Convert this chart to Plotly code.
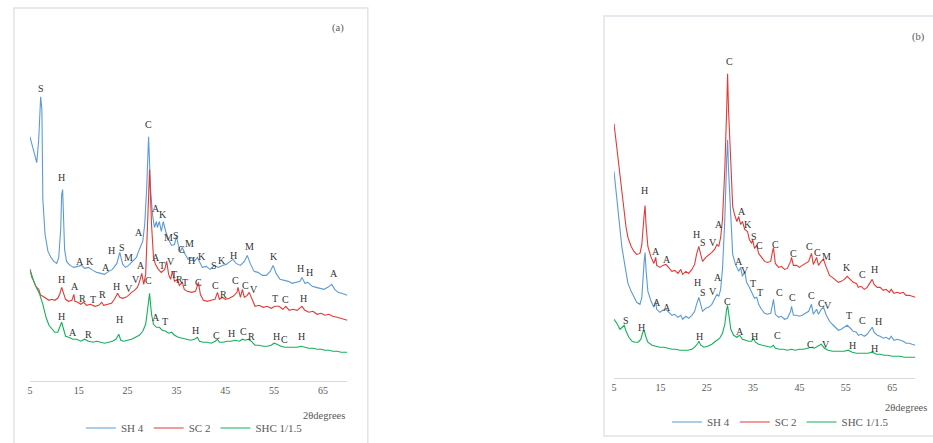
import plotly.graph_objects as go

# ---------------- Panel (a) data : 2theta (deg) / intensity (a.u.) ----------------
a_sh4_2theta = [5.0, 5.4, 5.8, 6.4, 6.8, 7.2, 7.45, 7.65, 8.1, 8.7,
                9.3, 9.9, 10.5, 10.9, 11.3, 11.5, 11.7, 11.9, 12.1, 12.5,
                13.2, 14.0, 14.8, 15.6, 16.2, 17.0, 17.9, 18.7, 19.5, 20.3,
                21.1, 21.9, 22.8, 23.4, 24.0, 24.6, 25.2, 26.0, 26.8, 27.4,
                28.1, 28.5, 28.9, 29.3, 29.7, 30.1, 30.5, 30.9, 31.1, 31.5,
                31.9, 32.3, 32.8, 33.4, 34.0, 34.6, 35.0, 35.4, 35.8, 36.2,
                36.8, 37.4, 38.1, 38.7, 39.3, 39.7, 40.3, 41.1, 41.9, 42.8,
                43.6, 44.4, 45.2, 46.0, 46.6, 47.2, 48.1, 48.9, 49.5, 50.1,
                50.9, 51.7, 52.6, 53.4, 54.2, 54.8, 55.4, 56.2, 57.0, 57.9,
                58.7, 59.5, 60.3, 60.7, 61.3, 61.9, 62.8, 63.6, 64.4, 65.2,
                66.0, 66.8, 67.4, 68.1, 68.8, 69.4, 70.0]
a_sh4_int = [245, 237, 229, 219, 242, 285, 272, 182, 147, 130,
             124, 120, 118, 124, 152, 187, 192, 167, 132, 120,
             116, 114, 115, 116, 113, 114, 111, 109, 108, 107,
             110, 112, 118, 129, 117, 114, 116, 120, 124, 132,
             140, 157, 192, 245, 192, 167, 154, 160, 154, 160,
             150, 160, 150, 142, 136, 137, 145, 136, 130, 134,
             127, 122, 124, 120, 124, 120, 114, 115, 112, 116,
             114, 116, 117, 120, 122, 118, 116, 120, 126, 118,
             110, 109, 106, 106, 110, 116, 108, 102, 101, 100,
             98, 99, 100, 104, 98, 99, 95, 94, 93, 92,
             94, 97, 92, 89, 88, 87, 86]

a_sc2_2theta = [5.0, 5.4, 5.8, 6.2, 6.8, 7.2, 7.65, 8.3, 8.9, 9.5,
                10.1, 10.7, 11.1, 11.5, 11.9, 12.3, 12.9, 13.6, 14.0, 14.2,
                14.8, 15.4, 16.0, 16.6, 17.4, 18.3, 19.1, 19.7, 20.1, 20.9,
                21.7, 22.3, 22.96, 23.4, 24.0, 24.6, 25.2, 25.8, 26.4, 27.0,
                27.4, 27.9, 28.3, 28.7, 29.1, 29.5, 29.9, 30.3, 30.7, 31.3,
                31.9, 32.6, 33.0, 33.4, 33.8, 34.2, 34.6, 35.2, 35.6, 36.2,
                36.6, 37.2, 38.1, 38.9, 39.5, 39.9, 40.5, 41.3, 42.1, 42.9,
                43.4, 43.8, 44.4, 45.0, 45.8, 46.6, 47.4, 47.6, 48.1, 48.5,
                48.9, 49.5, 49.9, 50.5, 51.1, 51.9, 52.8, 53.6, 54.4, 55.2,
                56.0, 56.8, 57.4, 58.1, 58.9, 59.7, 60.7, 61.3, 62.1, 62.96,
                63.8, 64.6, 65.4, 66.2, 67.0, 67.9, 68.7, 69.5, 70.0]
a_sc2_int = [112, 104, 100, 95, 92, 86, 85, 83, 81, 82,
             81, 83, 87, 94, 87, 82, 80, 81, 87, 80,
             79, 77, 79, 76, 77, 75, 76, 79, 76, 77,
             78, 82, 88, 84, 83, 84, 86, 89, 91, 94,
             99, 108, 97, 107, 152, 212, 157, 124, 117, 112,
             109, 112, 120, 107, 102, 110, 100, 102, 96, 99,
             92, 90, 89, 90, 99, 87, 81, 80, 81, 82,
             89, 82, 84, 82, 83, 85, 89, 94, 84, 92,
             84, 86, 89, 82, 75, 76, 74, 75, 73, 75,
             75, 72, 75, 71, 72, 71, 75, 71, 69, 70,
             67, 68, 66, 67, 65, 64, 63, 62, 61]

a_shc_2theta = [5.0, 5.4, 5.8, 6.4, 7.0, 7.65, 8.3, 8.9, 9.5, 10.1,
                10.7, 11.1, 11.5, 11.9, 12.3, 12.96, 13.8, 14.6, 15.4, 16.2,
                17.0, 17.9, 18.7, 19.5, 20.3, 21.1, 21.9, 22.6, 23.2, 23.6,
                24.2, 25.0, 25.8, 26.6, 27.4, 28.1, 28.7, 29.1, 29.5, 29.9,
                30.3, 30.9, 31.5, 32.1, 32.8, 33.4, 34.0, 34.6, 35.4, 36.2,
                37.0, 37.9, 38.7, 39.3, 39.7, 40.5, 41.3, 42.1, 42.96, 43.4,
                43.8, 44.6, 45.4, 46.2, 47.0, 47.9, 48.5, 49.1, 49.7, 50.3,
                51.1, 51.9, 52.8, 53.6, 54.4, 55.0, 55.6, 56.4, 57.2, 58.1,
                58.9, 59.7, 60.5, 61.3, 62.1, 62.96, 63.8, 64.6, 65.4, 66.2,
                67.0, 67.9, 68.7, 70.0]
a_shc_int = [112, 105, 100, 93, 87, 77, 64, 56, 52, 49,
             49, 54, 59, 52, 45, 44, 42, 42, 40, 42,
             40, 39, 40, 39, 38, 39, 40, 42, 47, 41,
             40, 41, 42, 44, 46, 50, 57, 72, 88, 67,
             57, 54, 54, 51, 50, 48, 49, 46, 44, 43,
             42, 41, 42, 44, 40, 39, 39, 38, 40, 42,
             39, 39, 40, 40, 41, 40, 42, 41, 42, 40,
             36, 36, 35, 35, 36, 38, 37, 35, 34, 34,
             34, 34, 35, 34, 33, 33, 32, 32, 31, 31,
             30, 30, 29, 29]

# ---------------- Panel (b) data ----------------
b_sc2_2theta = [5.0, 5.4, 5.9, 6.3, 6.7, 7.2, 7.6, 8.0, 8.7, 9.3,
                9.9, 10.6, 11.0, 11.5, 11.7, 11.9, 12.3, 13.0, 13.6, 14.0,
                14.2, 14.9, 15.5, 16.2, 16.8, 17.5, 18.1, 18.8, 19.4, 19.8,
                20.5, 21.1, 21.8, 22.4, 22.8, 23.3, 23.7, 24.1, 24.8, 25.4,
                26.1, 26.7, 27.2, 27.6, 28.0, 28.4, 28.9, 29.3, 29.5, 29.7,
                30.2, 30.6, 31.0, 31.5, 31.9, 32.3, 32.7, 33.2, 33.8, 34.2,
                34.7, 34.9, 35.3, 35.8, 36.2, 36.8, 37.5, 38.1, 38.8, 39.2,
                39.4, 39.8, 40.5, 41.1, 41.8, 42.4, 43.1, 43.3, 43.7, 44.4,
                45.0, 45.6, 46.3, 47.0, 47.6, 48.0, 48.7, 49.1, 49.7, 50.2,
                50.8, 51.5, 52.1, 52.7, 53.4, 54.0, 54.7, 55.3, 56.0, 56.6,
                57.3, 57.7, 58.3, 59.0, 59.6, 60.3, 60.7, 61.1, 61.8, 62.4,
                63.1, 63.7, 64.4, 64.8, 65.4, 66.1, 66.7, 67.4, 68.0, 68.7,
                69.3, 70.0]
b_sc2_int = [255, 239, 219, 199, 181, 164, 151, 141, 132, 127,
             124, 125, 134, 164, 173, 154, 132, 121, 115, 121,
             113, 111, 113, 114, 111, 107, 108, 105, 109, 104,
             107, 105, 109, 114, 124, 132, 124, 117, 121, 123,
             126, 129, 134, 132, 141, 159, 209, 269, 305, 269,
             209, 172, 164, 157, 162, 154, 157, 149, 147, 139,
             135, 139, 130, 133, 125, 121, 117, 116, 117, 127,
             131, 115, 111, 112, 109, 110, 117, 121, 113, 113,
             111, 113, 115, 117, 125, 114, 121, 113, 117, 119,
             111, 103, 101, 99, 96, 97, 99, 102, 99, 96,
             95, 91, 92, 89, 91, 96, 99, 94, 91, 91,
             88, 89, 86, 89, 85, 86, 85, 86, 83, 83,
             82, 81]

b_sh4_2theta = [5.0, 5.4, 5.9, 6.3, 6.7, 7.2, 7.6, 8.0, 8.7, 9.3,
                9.9, 10.6, 11.0, 11.5, 11.7, 11.9, 12.3, 13.0, 13.6, 14.0,
                14.2, 14.9, 15.5, 16.2, 16.8, 17.5, 18.1, 18.8, 19.4, 19.8,
                20.5, 21.1, 21.8, 22.4, 22.8, 23.3, 23.7, 24.1, 24.8, 25.4,
                26.1, 26.7, 27.2, 27.6, 28.0, 28.4, 28.9, 29.3, 29.5, 29.7,
                30.2, 30.6, 31.2, 31.9, 32.3, 32.7, 33.2, 33.6, 34.2, 34.7,
                34.9, 35.3, 35.8, 36.2, 36.8, 37.5, 38.1, 38.8, 39.2, 39.4,
                39.8, 40.5, 41.1, 41.8, 42.4, 43.1, 43.3, 43.7, 44.4, 45.0,
                45.6, 46.3, 47.0, 47.6, 48.0, 48.7, 49.1, 49.7, 50.2, 50.8,
                51.5, 52.1, 52.7, 53.4, 54.0, 54.7, 55.3, 56.0, 56.6, 57.3,
                57.7, 58.3, 59.0, 59.6, 60.3, 60.7, 61.1, 61.8, 62.4, 63.1,
                63.7, 64.4, 64.8, 65.4, 66.1, 66.7, 67.4, 68.0, 68.7, 69.3,
                70.0]
b_sh4_int = [207, 189, 169, 151, 131, 117, 104, 95, 87, 81,
             76, 74, 81, 117, 126, 109, 87, 77, 71, 77,
             69, 66, 68, 69, 66, 63, 64, 61, 63, 59,
             62, 60, 63, 67, 74, 81, 74, 67, 70, 71,
             74, 79, 84, 82, 89, 109, 159, 219, 239, 209,
             159, 124, 114, 107, 111, 102, 107, 96, 91, 86,
             85, 80, 81, 74, 69, 65, 64, 65, 74, 79,
             64, 61, 62, 59, 60, 67, 72, 63, 63, 62,
             63, 65, 67, 74, 64, 69, 64, 69, 71, 63,
             57, 54, 51, 48, 49, 51, 53, 50, 47, 46,
             43, 44, 42, 44, 48, 51, 46, 43, 42, 40,
             41, 39, 42, 38, 39, 38, 37, 35, 35, 34,
             33]

b_shc_2theta = [5.0, 5.6, 6.3, 6.7, 7.2, 7.6, 8.2, 8.9, 9.5, 10.2,
                10.8, 11.2, 11.5, 11.9, 12.3, 13.2, 14.0, 14.9, 15.8, 16.6,
                17.5, 18.3, 19.2, 20.1, 20.9, 21.8, 22.4, 23.1, 23.3, 23.7,
                24.4, 25.2, 26.1, 26.9, 27.8, 28.4, 28.9, 29.3, 29.5, 29.7,
                30.2, 30.8, 31.5, 32.1, 32.7, 33.4, 34.0, 34.7, 35.1, 35.5,
                36.2, 37.0, 37.9, 38.8, 39.4, 39.8, 40.7, 41.6, 42.4, 43.3,
                44.1, 45.0, 45.9, 46.7, 47.6, 48.2, 49.1, 49.7, 50.4, 51.2,
                52.1, 53.0, 53.8, 54.7, 55.5, 56.4, 57.3, 58.1, 59.0, 59.8,
                60.7, 61.6, 62.4, 63.3, 64.1, 65.0, 65.9, 66.7, 67.6, 68.4,
                70.0]
b_shc_int = [59, 55, 49, 51, 53, 47, 41, 37, 36, 36,
             39, 46, 48, 41, 36, 33, 32, 31, 31, 30,
             29, 29, 28, 28, 28, 29, 31, 35, 37, 33,
             31, 32, 34, 37, 40, 45, 54, 69, 73, 66,
             49, 43, 41, 43, 39, 38, 37, 37, 40, 36,
             34, 33, 32, 31, 33, 30, 29, 29, 28, 29,
             28, 29, 29, 30, 31, 30, 32, 34, 30, 28,
             27, 27, 27, 27, 28, 26, 25, 25, 25, 25,
             26, 24, 24, 23, 23, 22, 22, 22, 21, 21,
             21]

# ---------------- Phase labels (letter, 2theta, intensity) ----------------
a_sh4_lab = ["S", "H", "C", "A", "K", "A", "H", "S", "M", "A", "K", "A", "M", "S", "C", "M",
             "H", "K", "S", "K", "H", "M", "K", "H", "H", "A"]
a_sh4_lab_x = [7.2, 11.5, 29.3, 30.9, 32.3, 27.4, 21.7, 23.8, 25.2, 15.2, 17.2, 20.5, 33.4, 35.0,
               36.0, 37.7, 38.1, 40.3, 42.6, 44.4, 46.6, 49.9, 55.0, 60.5, 62.3, 67.2]
a_sh4_lab_y = [293, 204, 257, 173, 167, 149, 131, 134, 124, 120, 120, 114, 144, 146,
               132, 138, 121, 125, 116, 121, 126, 135, 125, 113, 109, 108]

a_sc2_lab = ["H", "A", "R", "T", "R", "H", "V", "V", "A", "A", "T", "V", "T", "R", "T", "C",
             "C", "R", "C", "C", "V", "T", "C", "H"]
a_sc2_lab_x = [11.5, 14.2, 15.8, 17.9, 19.9, 22.8, 25.2, 26.7, 27.65, 30.9, 32.1, 33.8, 34.6,
               35.6, 36.8, 39.5, 43.0, 44.6, 47.0, 49.1, 50.9, 55.2, 57.4, 61.1]
a_sc2_lab_y = [102, 95, 83, 82, 87, 95, 93, 102, 116, 124, 116, 120, 107,
               102, 99, 99, 96, 87, 101, 96, 92, 83, 82, 83]

a_shc_lab = ["C", "H", "A", "R", "H", "A", "T", "H", "C", "H", "C", "R", "H", "C", "H"]
a_shc_lab_x = [29.3, 11.5, 13.8, 17.0, 23.4, 30.9, 32.6, 38.9, 43.2, 46.2, 48.7, 50.3, 55.4, 57.2, 60.7]
a_shc_lab_y = [101, 65, 49, 47, 62, 64, 60, 51, 46, 48, 50, 45, 45, 42, 45]

b_sc2_lab = ["C", "H", "A", "A", "H", "S", "V", "A", "A", "K", "S", "C", "C", "C", "C", "C",
             "M", "K", "C", "H"]
b_sc2_lab_x = [29.9, 11.5, 14.0, 16.4, 22.8, 24.1, 26.3, 27.6, 32.7, 34.0, 35.1, 36.4, 39.8,
               43.7, 47.2, 48.9, 50.8, 55.3, 58.5, 61.3]
b_sc2_lab_y = [317, 188, 127, 119, 144, 136, 136, 154, 167, 154, 142, 133, 134,
               125, 132, 126, 122, 111, 104, 109]

b_sh4_lab = ["A", "A", "H", "S", "V", "A", "A", "V", "T", "T", "C", "C", "C", "C", "V", "T",
             "C", "H"]
b_sh4_lab_x = [14.2, 16.4, 23.1, 24.1, 26.3, 27.4, 31.9, 33.2, 34.9, 36.6, 40.7, 43.5, 47.6,
               49.7, 51.2, 55.8, 58.5, 62.0]
b_sh4_lab_y = [76, 71, 96, 86, 87, 101, 117, 108, 95, 86, 86, 81, 83, 75, 73, 63, 58, 57]

b_shc_lab = ["S", "H", "H", "C", "A", "H", "C", "C", "V", "H", "H"]
b_shc_lab_x = [7.6, 11.0, 23.5, 29.5, 32.1, 35.3, 40.3, 47.4, 50.8, 56.4, 61.1]
b_shc_lab_y = [58, 51, 42, 77, 47, 42, 43, 34, 34, 33, 30]

series_names = ["SH 4", "SC 2", "SHC 1/1.5"]
tick_vals = [5, 15, 25, 35, 45, 55, 65]

# ---------------- styling ----------------
W, H = 933, 443
colors = {"SH 4": "#5b9bd5", "SC 2": "#e53935", "SHC 1/1.5": "#14b05a"}
serif = "Liberation Serif"
txt_col = "#595959"
lab_col = "#333333"


def px_x(p):
    return p / W


def px_y(p):
    return 1 - p / H


fig = go.Figure()

panel_a = [("SH 4", a_sh4_2theta, a_sh4_int), ("SC 2", a_sc2_2theta, a_sc2_int),
           ("SHC 1/1.5", a_shc_2theta, a_shc_int)]
panel_b = [("SH 4", b_sh4_2theta, b_sh4_int), ("SC 2", b_sc2_2theta, b_sc2_int),
           ("SHC 1/1.5", b_shc_2theta, b_shc_int)]

for name, xs, ys in panel_a:
    fig.add_trace(go.Scatter(x=xs, y=ys, mode="lines", name=name,
                             line=dict(color=colors[name], width=1.1),
                             xaxis="x", yaxis="y", legend="legend"))
for name, xs, ys in panel_b:
    fig.add_trace(go.Scatter(x=xs, y=ys, mode="lines", name=name,
                             line=dict(color=colors[name], width=1.1),
                             xaxis="x2", yaxis="y2", legend="legend2"))

annotations = []
for labs, lx, ly, ax in [(a_sh4_lab, a_sh4_lab_x, a_sh4_lab_y, "1"),
                         (a_sc2_lab, a_sc2_lab_x, a_sc2_lab_y, "1"),
                         (a_shc_lab, a_shc_lab_x, a_shc_lab_y, "1"),
                         (b_sc2_lab, b_sc2_lab_x, b_sc2_lab_y, "2"),
                         (b_sh4_lab, b_sh4_lab_x, b_sh4_lab_y, "2"),
                         (b_shc_lab, b_shc_lab_x, b_shc_lab_y, "2")]:
    xr = "x" if ax == "1" else "x2"
    yr = "y" if ax == "1" else "y2"
    for t, xv, yv in zip(labs, lx, ly):
        annotations.append(dict(text=t, x=xv, y=yv, xref=xr, yref=yr, showarrow=False,
                                font=dict(family=serif, size=10, color=lab_col),
                                xanchor="center", yanchor="middle"))

for t, xp, yp in [("(a)", 336, 28), ("(b)", 918, 37),
                  ("2θdegrees", 322, 416), ("2θdegrees", 906, 408)]:
    annotations.append(dict(text=t, x=px_x(xp), y=px_y(yp), xref="paper", yref="paper",
                            showarrow=False, xanchor="center", yanchor="middle",
                            font=dict(family=serif, size=10.5, color=txt_col)))

frame_col = "#dfe4ea"
shapes = [
    dict(type="rect", xref="paper", yref="paper", x0=px_x(11), x1=px_x(366),
         y0=px_y(445), y1=px_y(8), line=dict(color=frame_col, width=1.5)),
    dict(type="rect", xref="paper", yref="paper", x0=px_x(603), x1=px_x(945),
         y0=px_y(437), y1=px_y(16), line=dict(color=frame_col, width=1.5)),
]

xaxis_common = dict(range=[5, 70], tickvals=tick_vals, ticktext=[str(v) for v in tick_vals],
                    showgrid=False, zeroline=False, showline=True, linecolor="#d9d9d9",
                    linewidth=1.2, ticks="", tickfont=dict(family=serif, size=10, color=txt_col))

fig.update_layout(
    width=W, height=H, margin=dict(l=0, r=0, t=0, b=0),
    paper_bgcolor="white", plot_bgcolor="rgba(0,0,0,0)",
    xaxis=dict(domain=[px_x(27), px_x(345.5)], anchor="y", **xaxis_common),
    yaxis=dict(domain=[px_y(382), px_y(8)], range=[0, 374], visible=False, anchor="x"),
    xaxis2=dict(domain=[px_x(613), px_x(915.25)], anchor="y2", **xaxis_common),
    yaxis2=dict(domain=[px_y(379), px_y(16)], range=[0, 363], visible=False, anchor="x2"),
    legend=dict(orientation="h", x=px_x(192), y=px_y(429), xanchor="center", yanchor="middle",
                font=dict(family=serif, size=11, color=txt_col), bgcolor="rgba(0,0,0,0)",
                itemwidth=30, tracegroupgap=0),
    legend2=dict(orientation="h", x=px_x(780), y=px_y(423), xanchor="center", yanchor="middle",
                 font=dict(family=serif, size=11, color=txt_col), bgcolor="rgba(0,0,0,0)",
                 itemwidth=30, tracegroupgap=0),
    annotations=annotations,
    shapes=shapes,
    showlegend=True,
)

fig.write_html("out.html", config={"displayModeBar": False},
               post_script="document.body.style.margin='0';document.body.style.overflow='hidden';")
